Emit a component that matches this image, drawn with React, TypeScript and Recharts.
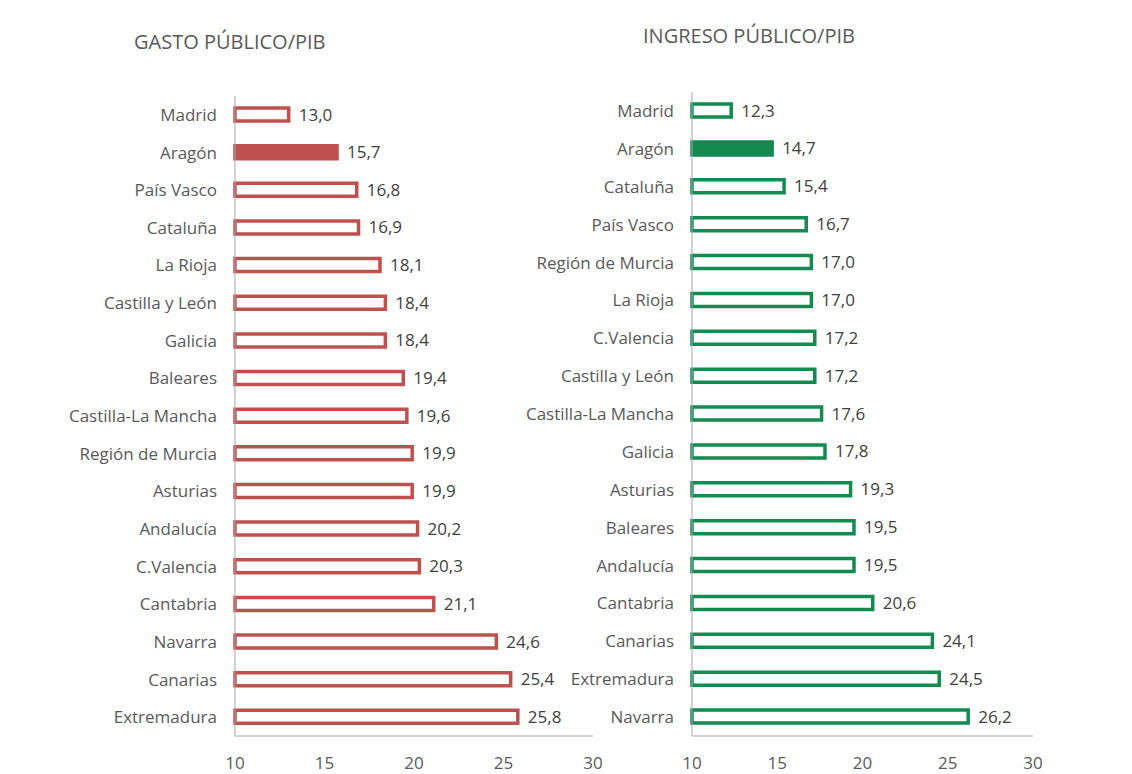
import { BarChart, Bar, XAxis, YAxis, Cell, LabelList } from 'recharts';

const gastoRegions = [
  'Madrid', 'Aragón', 'País Vasco', 'Cataluña', 'La Rioja', 'Castilla y León', 'Galicia', 'Baleares',
  'Castilla-La Mancha', 'Región de Murcia', 'Asturias', 'Andalucía', 'C.Valencia', 'Cantabria',
  'Navarra', 'Canarias', 'Extremadura',
];
const gastoValues = [13.0, 15.7, 16.8, 16.9, 18.1, 18.4, 18.4, 19.4, 19.6, 19.9, 19.9, 20.2, 20.3, 21.1, 24.6, 25.4, 25.8];

const ingresoRegions = [
  'Madrid', 'Aragón', 'Cataluña', 'País Vasco', 'Región de Murcia', 'La Rioja', 'C.Valencia',
  'Castilla y León', 'Castilla-La Mancha', 'Galicia', 'Asturias', 'Baleares', 'Andalucía',
  'Cantabria', 'Canarias', 'Extremadura', 'Navarra',
];
const ingresoValues = [12.3, 14.7, 15.4, 16.7, 17.0, 17.0, 17.2, 17.2, 17.6, 17.8, 19.3, 19.5, 19.5, 20.6, 24.1, 24.5, 26.2];

const xTicks = [10, 15, 20, 25, 30];
const highlight = 'Aragón';

const FONT = '"Open Sans", Lato, sans-serif';
const AXIS_GRAY = '#a6a6a6';

const fmt = (v: any) => Number(v).toFixed(1).replace('.', ',');

interface PanelProps {
  regions: string[];
  values: number[];
  color: string;
  left: number;
  top: number;
  width: number;
}

function Panel({ regions, values, color, left, top, width }: PanelProps) {
  const data = regions.map((name, i) => ({ name, value: values[i] }));
  return (
    <div style={{ position: 'absolute', left, top: 0 }}>
      <BarChart
        width={width}
        height={774}
        data={data}
        layout="vertical"
        margin={{ top, right: 24, bottom: 0, left: 0 }}
        barSize={13}
      >
        <XAxis
          type="number"
          domain={[10, 30]}
          ticks={xTicks}
          tickLine={false}
          axisLine={{ stroke: AXIS_GRAY }}
          tick={{ fill: '#595959', fontSize: 17, fontFamily: FONT }}
          tickMargin={15}
          height={38}
        />
        <YAxis
          type="category"
          dataKey="name"
          width={235}
          tickLine={false}
          axisLine={{ stroke: AXIS_GRAY }}
          tick={{ fill: '#595959', fontSize: 17, fontFamily: FONT }}
          tickMargin={12}
          interval={0}
        />
        <Bar dataKey="value" stroke={color} strokeWidth={3.5} isAnimationActive={false}>
          {data.map((d) => (
            <Cell key={d.name} fill={d.name === highlight ? color : '#ffffff'} />
          ))}
          <LabelList
            dataKey="value"
            position="right"
            offset={10}
            formatter={fmt}
            style={{ fill: '#404040', fontSize: 17, fontFamily: FONT }}
          />
        </Bar>
      </BarChart>
    </div>
  );
}

export default function App() {
  return (
    <div style={{ position: 'absolute', left: 0, top: 0, width: 1132, height: 774, background: '#fff', overflow: 'hidden' }}>
      <div style={{ position: 'absolute', left: 134, top: 28, fontFamily: FONT, fontSize: 20, color: '#595959' }}>
        GASTO PÚBLICO/PIB
      </div>
      <div style={{ position: 'absolute', left: 643, top: 22, fontFamily: FONT, fontSize: 20, color: '#595959' }}>
        INGRESO PÚBLICO/PIB
      </div>
      <Panel regions={gastoRegions} values={gastoValues} color="#c0504d" left={0} top={96} width={617} />
      <Panel regions={ingresoRegions} values={ingresoValues} color="#138a50" left={457} top={92} width={600} />
    </div>
  );
}
